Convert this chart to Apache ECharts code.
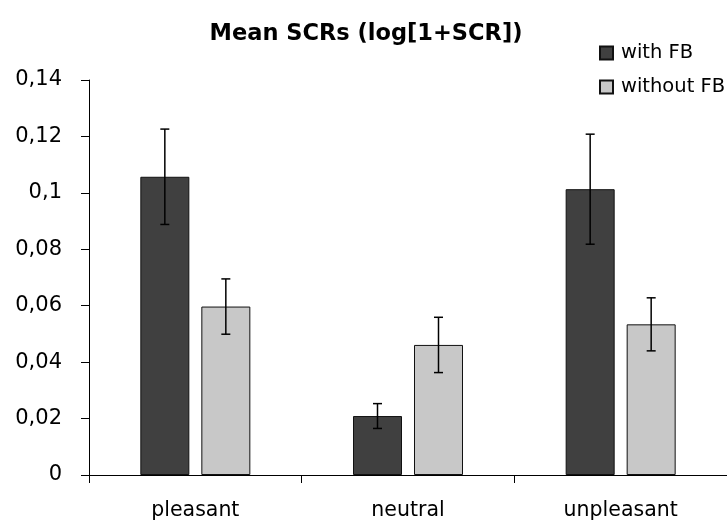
<!DOCTYPE html>
<html><head><meta charset="utf-8">
<script src="https://cdn.jsdelivr.net/npm/echarts@6/dist/echarts.min.js"></script>
<style>html,body{margin:0;padding:0;background:#fff}#c{width:727px;height:524px}</style>
</head><body><div id="c"></div>
<script>
const categories = ['pleasant', 'neutral', 'unpleasant'];
const seriesNames = ['with FB', 'without FB'];
const withFB = [0.1057, 0.0209, 0.1013];
const withFBErr = [0.0169, 0.0044, 0.0195];
const withoutFB = [0.0597, 0.0461, 0.0534];
const withoutFBErr = [0.0098, 0.0098, 0.0094];
const yTickLabels = ['0', '0,02', '0,04', '0,06', '0,08', '0,1', '0,12', '0,14'];

const FONT = 'DejaVu Sans';
const BAR_W = 49, BAR_GAP = 12;

function errSeries(vals, errs, idx) {
  const off = (idx === 0 ? -1 : 1) * (BAR_W + BAR_GAP) / 2;
  return {
    type: 'custom', z: 10, silent: true,
    data: vals.map((v, i) => [i, v - errs[i], v + errs[i]]),
    renderItem: function (params, api) {
      const lo = api.coord([api.value(0), api.value(1)]);
      const hi = api.coord([api.value(0), api.value(2)]);
      const x = lo[0] + off, cw = 4.5;
      const st = { stroke: '#000', lineWidth: 1.5 };
      return { type: 'group', children: [
        { type: 'line', shape: { x1: x, y1: lo[1], x2: x, y2: hi[1] }, style: st },
        { type: 'line', shape: { x1: x - cw, y1: lo[1], x2: x + cw, y2: lo[1] }, style: st },
        { type: 'line', shape: { x1: x - cw, y1: hi[1], x2: x + cw, y2: hi[1] }, style: st }
      ]};
    }
  };
}

const chart = echarts.init(document.getElementById('c'));
chart.setOption({
  animation: false,
  backgroundColor: '#fff',
  title: {
    text: 'Mean SCRs (log[1+SCR])', left: 366, top: 23, textAlign: 'center', padding: 0,
    textStyle: { fontFamily: FONT, fontWeight: 'bold', fontSize: 22.5, color: '#000' }
  },
  legend: {
    orient: 'vertical', left: 599, top: 43, padding: 0, itemWidth: 13, itemHeight: 13, itemGap: 14,
    icon: 'rect',
    textStyle: { fontFamily: FONT, fontSize: 19.5, lineHeight: 20, color: '#000', padding: [0, 0, 0, 3] },
    data: seriesNames
  },
  grid: { left: 89, right: 0, top: 80, bottom: 49, containLabel: false },
  xAxis: {
    type: 'category', data: categories,
    axisLine: { lineStyle: { color: '#000', width: 1 } },
    axisTick: { show: true, length: 8, inside: false, lineStyle: { color: '#000' } },
    axisLabel: { fontFamily: FONT, fontSize: 20.5, color: '#000', margin: 25 }
  },
  yAxis: {
    type: 'value', min: 0, max: 0.14, interval: 0.02,
    splitLine: { show: false },
    axisLine: { show: true, lineStyle: { color: '#000', width: 1 } },
    axisTick: { show: true, length: 8, lineStyle: { color: '#000' } },
    axisLabel: { fontFamily: FONT, fontSize: 21, color: '#000', margin: 27,
      formatter: v => yTickLabels[Math.round(v / 0.02)] }
  },
  series: [
    { name: seriesNames[0], type: 'bar', data: withFB, barWidth: BAR_W, barGap: (BAR_GAP / BAR_W * 100) + '%',
      itemStyle: { color: '#404040', borderColor: '#111', borderWidth: 1 } },
    { name: seriesNames[1], type: 'bar', data: withoutFB, barWidth: BAR_W,
      itemStyle: { color: '#c8c8c8', borderColor: '#111', borderWidth: 1 } },
    errSeries(withFB, withFBErr, 0),
    errSeries(withoutFB, withoutFBErr, 1)
  ]
});
</script></body></html>
